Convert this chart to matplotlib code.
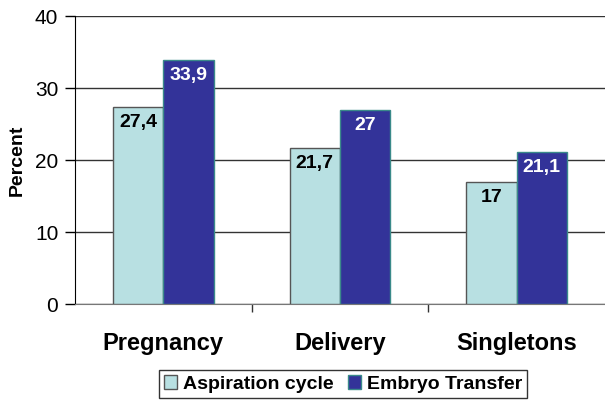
import numpy as np
import matplotlib.pyplot as plt

plt.rcParams['font.family'] = ['Liberation Sans', 'DejaVu Sans']

categories = ['Pregnancy', 'Delivery', 'Singletons']
aspiration = [27.4, 21.7, 17]
embryo = [33.9, 27, 21.1]
aspiration_labels = ['27,4', '21,7', '17']
embryo_labels = ['33,9', '27', '21,1']

fig = plt.figure(figsize=(6.05, 4.05), dpi=100)
ax = fig.add_axes([0.124, 0.249, 0.876, 0.711])

x = np.arange(len(categories))
w = 0.285
b1 = ax.bar(x - w / 2, aspiration, w, color='#B8E0E2', edgecolor='#555555', linewidth=1, label='Aspiration cycle', zorder=3)
b2 = ax.bar(x + w / 2, embryo, w, color='#333399', edgecolor='#3A8A8A', linewidth=1, label='Embryo Transfer', zorder=3)

for rect, lab in zip(b1, aspiration_labels):
    ax.text(rect.get_x() + rect.get_width() / 2, rect.get_height() - 1.0, lab, ha='center', va='top',
            fontsize=14, fontweight='bold', color='black', zorder=4)
for rect, lab in zip(b2, embryo_labels):
    ax.text(rect.get_x() + rect.get_width() / 2, rect.get_height() - 1.0, lab, ha='center', va='top',
            fontsize=14, fontweight='bold', color='white', zorder=4)

ax.set_ylim(0, 40)
ax.set_xlim(-0.5, 2.5)
ax.set_yticks([0, 10, 20, 30, 40])
ax.tick_params(axis='y', labelsize=15, length=7, width=1, pad=5)
ax.yaxis.grid(True, color='#333333', linewidth=1, zorder=0)
ax.set_ylabel('Percent', fontsize=14, fontweight='bold', labelpad=7)

ax.set_xticks([0.5, 1.5])
ax.set_xticklabels([])
ax.tick_params(axis='x', length=6, width=1, color='#333333')
for xi, cat in zip(x, categories):
    ax.text(xi, -3.9, cat, ha='center', va='top', fontsize=17, fontweight='bold')

for s in ['top', 'right']:
    ax.spines[s].set_visible(False)
ax.spines['left'].set_color('black')
ax.spines['bottom'].set_color('#777777')

leg = fig.legend(handles=[b1, b2], loc='center', bbox_to_anchor=(0.567, 0.052), ncol=2,
                 frameon=True, fancybox=False, edgecolor='black',
                 prop={'weight': 'bold', 'size': 14}, handlelength=0.7, handleheight=0.7,
                 handletextpad=0.3, columnspacing=0.7, borderpad=0.25)
leg.get_frame().set_linewidth(1)

fig.savefig('out.png', dpi=100)
